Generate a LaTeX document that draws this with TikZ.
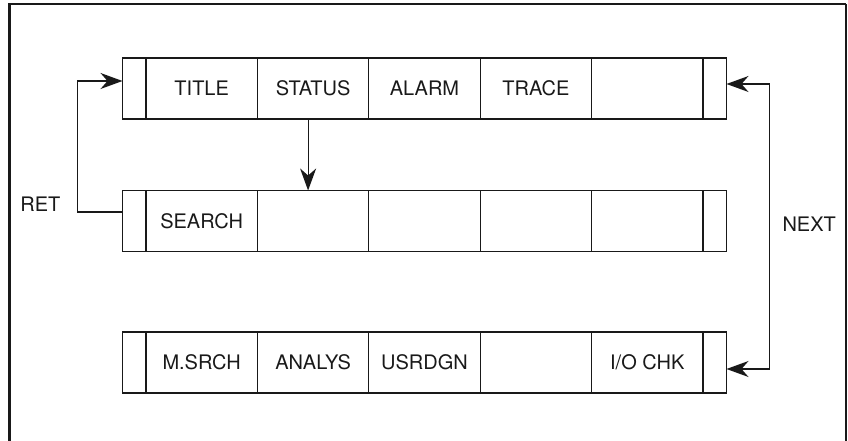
\documentclass[tikz,border=0pt]{standalone}
\usepackage{fontspec}
\setmainfont{TeX Gyre Heros}
\usetikzlibrary{arrows.meta,positioning}
\definecolor{ink}{RGB}{25,25,25}

\begin{document}
\begin{tikzpicture}[x=1pt,y=1pt,
 every node/.style={font=\fontsize{20}{23}\selectfont,text=ink},
 >={Stealth[length=22pt,width=16pt,inset=7pt]},
 key/.style={draw=ink,line width=1.3pt,rectangle,minimum width=111.4pt,
  minimum height=61pt,inner sep=0pt,outer sep=0pt},
 endkey/.style={key,minimum width=23.5pt},
 flow/.style={ink,line width=1.2pt,->},
 panel/.style={ink,line width=2.6pt}]
 \path[use as bounding box] (0,0) rectangle (848,441);
 % Screen border, open at the bottom.
 \draw[panel] (9.5,0)--(9.5,437)--(846,437);
 \draw[ink,line width=1.5pt] (846,437)--(846,0);
 % First row of soft keys.
 \node[key] (title) at (201.7,352.5) {TITLE};
 \node[key,right=0pt of title] (status) {STATUS};
 \node[key,right=0pt of status] (alarm) {ALARM};
 \node[key,right=0pt of alarm] (trace) {TRACE};
 \node[key,right=0pt of trace] (topfree) {};
 \node[endkey,left=0pt of title] (topl) {};
 \node[endkey,right=0pt of topfree] (topr) {};
 % Second row.
 \node[key] (search) at (201.7,220) {SEARCH};
 \node[key,right=0pt of search] (midb) {};
 \node[key,right=0pt of midb] (midc) {};
 \node[key,right=0pt of midc] (midd) {};
 \node[key,right=0pt of midd] (mide) {};
 \node[endkey,left=0pt of search] (midl) {};
 \node[endkey,right=0pt of mide] (midr) {};
 % Third row.
 \node[key] (msrch) at (201.7,78.5) {M.SRCH};
 \node[key,right=0pt of msrch] (analys) {ANALYS};
 \node[key,right=0pt of analys] (usrdgn) {USRDGN};
 \node[key,right=0pt of usrdgn] (botfree) {};
 \node[key,right=0pt of botfree] (iochk) {I/O CHK};
 \node[endkey,left=0pt of msrch] (botl) {};
 \node[endkey,right=0pt of iochk] (botr) {};
 % Key transitions.
 \draw[flow] ([xshift=-5pt]status.south)--([xshift=-5pt]midb.north);
 \draw[flow] ([yshift=9pt]midl.west)--++(-45,0)|-([yshift=7.5pt]topl.west);
 \node[anchor=base east] (ret) at (64,229) {RET};
 \draw[flow,<->] ([yshift=4.5pt]topr.east)--++(43,0)|-([yshift=-6.5pt]botr.east);
 \node[anchor=base west] (next) at (779,209) {NEXT};
\end{tikzpicture}
\end{document}
